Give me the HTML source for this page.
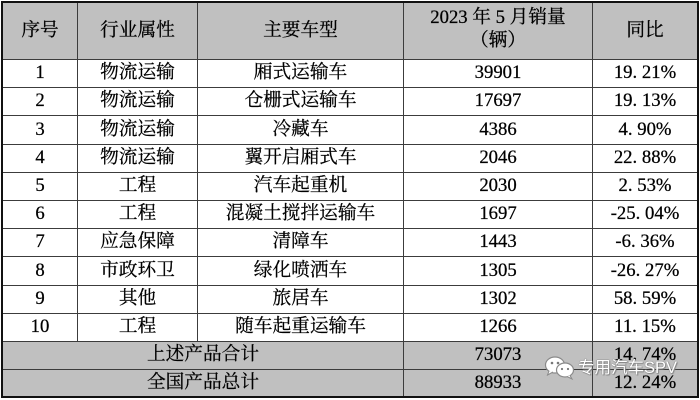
<!DOCTYPE html>
<html>
<head>
<meta charset="utf-8">
<style>
  html,body{margin:0;padding:0;background:#fff;}
  body{width:700px;height:400px;position:relative;overflow:hidden;
       font-family:"Liberation Serif","Noto Serif CJK SC","Noto Serif CJK JP",serif;color:#000;}
  .bg{position:absolute;background:#c0c0c0;}
  .h{position:absolute;height:1px;background:#3c3c3c;left:2px;width:695px;}
  .v{position:absolute;width:1px;background:#3c3c3c;}
  .c{position:absolute;display:flex;align-items:center;justify-content:center;
     font-size:18.7px;white-space:nowrap;line-height:1;-webkit-text-stroke:0.25px #000;}
  .hd{font-size:18.7px;}
  .d{display:inline-block;width:9.4px;text-align:left;}
  .outer{position:absolute;left:1px;top:1px;width:698px;height:397px;box-sizing:border-box;border:2px solid #111;}
  .wm{position:absolute;left:578px;top:358px;font-family:"Liberation Sans","Noto Sans CJK SC",sans-serif;
      font-size:16.5px;color:#fff;line-height:20px;white-space:nowrap;
      text-shadow:0 0 1px #777,0 0 1px #777,1px 1px 1px #888;}
</style>
</head>
<body>
<div class="bg" style="left:2px;top:2px;width:695px;height:57px;"></div>
<div class="bg" style="left:2px;top:341px;width:695px;height:56px;"></div>

<div class="h" style="top:59px"></div>
<div class="h" style="top:87px"></div>
<div class="h" style="top:115px"></div>
<div class="h" style="top:144px"></div>
<div class="h" style="top:172px"></div>
<div class="h" style="top:200px"></div>
<div class="h" style="top:228px"></div>
<div class="h" style="top:256px"></div>
<div class="h" style="top:285px"></div>
<div class="h" style="top:313px"></div>
<div class="h" style="top:341px"></div>
<div class="h" style="top:369px"></div>

<div class="v" style="left:77px;top:2px;height:339px"></div>
<div class="v" style="left:197px;top:2px;height:339px"></div>
<div class="v" style="left:403px;top:2px;height:395px"></div>
<div class="v" style="left:592px;top:2px;height:395px"></div>

<div class="outer"></div>

<div class="c hd" style="left:3px;top:3px;width:74px;height:56px;">序号</div>
<div class="c hd" style="left:78px;top:3px;width:119px;height:56px;">行业属性</div>
<div class="c hd" style="left:198px;top:3px;width:205px;height:56px;">主要车型</div>
<div class="c hd" style="left:404px;top:7px;width:188px;height:23px;">2023 年 5 月销量</div>
<div class="c hd" style="left:404px;top:30px;width:188px;height:23px;">（辆）</div>
<div class="c hd" style="left:593px;top:3px;width:104px;height:56px;">同比</div>

<div class="c" style="left:3px;top:60px;width:74px;height:27px;">1</div>
<div class="c" style="left:78px;top:60px;width:119px;height:27px;">物流运输</div>
<div class="c" style="left:198px;top:60px;width:205px;height:27px;">厢式运输车</div>
<div class="c" style="left:404px;top:60px;width:188px;height:27px;">39901</div>
<div class="c" style="left:593px;top:60px;width:104px;height:27px;">19<span class="d">.</span>21%</div>

<div class="c" style="left:3px;top:88px;width:74px;height:27px;">2</div>
<div class="c" style="left:78px;top:88px;width:119px;height:27px;">物流运输</div>
<div class="c" style="left:198px;top:88px;width:205px;height:27px;">仓栅式运输车</div>
<div class="c" style="left:404px;top:88px;width:188px;height:27px;">17697</div>
<div class="c" style="left:593px;top:88px;width:104px;height:27px;">19<span class="d">.</span>13%</div>

<div class="c" style="left:3px;top:116px;width:74px;height:28px;">3</div>
<div class="c" style="left:78px;top:116px;width:119px;height:28px;">物流运输</div>
<div class="c" style="left:198px;top:116px;width:205px;height:28px;">冷藏车</div>
<div class="c" style="left:404px;top:116px;width:188px;height:28px;">4386</div>
<div class="c" style="left:593px;top:116px;width:104px;height:28px;">4<span class="d">.</span>90%</div>

<div class="c" style="left:3px;top:145px;width:74px;height:27px;">4</div>
<div class="c" style="left:78px;top:145px;width:119px;height:27px;">物流运输</div>
<div class="c" style="left:198px;top:145px;width:205px;height:27px;">翼开启厢式车</div>
<div class="c" style="left:404px;top:145px;width:188px;height:27px;">2046</div>
<div class="c" style="left:593px;top:145px;width:104px;height:27px;">22<span class="d">.</span>88%</div>

<div class="c" style="left:3px;top:173px;width:74px;height:27px;">5</div>
<div class="c" style="left:78px;top:173px;width:119px;height:27px;">工程</div>
<div class="c" style="left:198px;top:173px;width:205px;height:27px;">汽车起重机</div>
<div class="c" style="left:404px;top:173px;width:188px;height:27px;">2030</div>
<div class="c" style="left:593px;top:173px;width:104px;height:27px;">2<span class="d">.</span>53%</div>

<div class="c" style="left:3px;top:201px;width:74px;height:27px;">6</div>
<div class="c" style="left:78px;top:201px;width:119px;height:27px;">工程</div>
<div class="c" style="left:198px;top:201px;width:205px;height:27px;">混凝土搅拌运输车</div>
<div class="c" style="left:404px;top:201px;width:188px;height:27px;">1697</div>
<div class="c" style="left:593px;top:201px;width:104px;height:27px;">-25<span class="d">.</span>04%</div>

<div class="c" style="left:3px;top:229px;width:74px;height:27px;">7</div>
<div class="c" style="left:78px;top:229px;width:119px;height:27px;">应急保障</div>
<div class="c" style="left:198px;top:229px;width:205px;height:27px;">清障车</div>
<div class="c" style="left:404px;top:229px;width:188px;height:27px;">1443</div>
<div class="c" style="left:593px;top:229px;width:104px;height:27px;">-6<span class="d">.</span>36%</div>

<div class="c" style="left:3px;top:257px;width:74px;height:28px;">8</div>
<div class="c" style="left:78px;top:257px;width:119px;height:28px;">市政环卫</div>
<div class="c" style="left:198px;top:257px;width:205px;height:28px;">绿化喷洒车</div>
<div class="c" style="left:404px;top:257px;width:188px;height:28px;">1305</div>
<div class="c" style="left:593px;top:257px;width:104px;height:28px;">-26<span class="d">.</span>27%</div>

<div class="c" style="left:3px;top:286px;width:74px;height:27px;">9</div>
<div class="c" style="left:78px;top:286px;width:119px;height:27px;">其他</div>
<div class="c" style="left:198px;top:286px;width:205px;height:27px;">旅居车</div>
<div class="c" style="left:404px;top:286px;width:188px;height:27px;">1302</div>
<div class="c" style="left:593px;top:286px;width:104px;height:27px;">58<span class="d">.</span>59%</div>

<div class="c" style="left:3px;top:314px;width:74px;height:27px;">10</div>
<div class="c" style="left:78px;top:314px;width:119px;height:27px;">工程</div>
<div class="c" style="left:198px;top:314px;width:205px;height:27px;">随车起重运输车</div>
<div class="c" style="left:404px;top:314px;width:188px;height:27px;">1266</div>
<div class="c" style="left:593px;top:314px;width:104px;height:27px;">11<span class="d">.</span>15%</div>

<div class="c" style="left:3px;top:342px;width:400px;height:27px;">上述产品合计</div>
<div class="c" style="left:404px;top:342px;width:188px;height:27px;">73073</div>
<div class="c" style="left:593px;top:342px;width:104px;height:27px;">14<span class="d">.</span>74%</div>

<div class="c" style="left:3px;top:370px;width:400px;height:27px;">全国产品总计</div>
<div class="c" style="left:404px;top:370px;width:188px;height:27px;">88933</div>
<div class="c" style="left:593px;top:370px;width:104px;height:27px;">12<span class="d">.</span>24%</div>

<svg style="position:absolute;left:544px;top:355px;" width="34" height="26" viewBox="0 0 34 26">
  <ellipse cx="11" cy="10" rx="9.5" ry="8" fill="#fff" stroke="#8a8a8a" stroke-width="1.2"/>
  <path d="M5 16 L3.5 20 L9 17" fill="#fff" stroke="#8a8a8a" stroke-width="1"/>
  <ellipse cx="21" cy="15" rx="8.5" ry="7" fill="#fff" stroke="#8a8a8a" stroke-width="1.2"/>
  <path d="M26 20.5 L28 24 L23 21.5" fill="#fff" stroke="#8a8a8a" stroke-width="1"/>
  <circle cx="8" cy="8" r="1.3" fill="#777"/>
  <circle cx="14" cy="8" r="1.3" fill="#777"/>
  <circle cx="18" cy="14" r="1.1" fill="#777"/>
  <circle cx="24" cy="14" r="1.1" fill="#777"/>
</svg>
<div class="wm">专用汽车SPV</div>
</body>
</html>
